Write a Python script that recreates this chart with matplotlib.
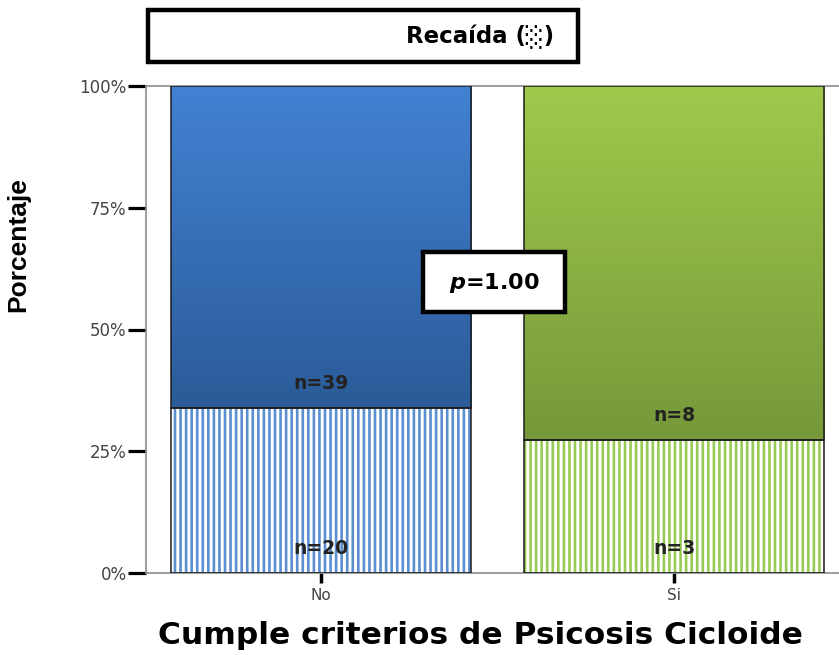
import numpy as np
import matplotlib
matplotlib.use("Agg")
import matplotlib.pyplot as plt
from matplotlib.patches import Rectangle
from matplotlib.colors import to_rgb
import matplotlib.patheffects as pe

# data
categories = ["No", "Si"]
n_relapse = [20, 3]       # lower (hatched) segment
n_no_relapse = [39, 8]    # upper (solid) segment
tick_vals = [0, 0.25, 0.5, 0.75, 1.0]
tick_labels = ["0%", "25%", "50%", "75%", "100%"]
p_text = "1.00"

top_colors = [("#4282d3", "#2b5b98"), ("#9fca4c", "#76983a")]
stripe_colors = ["#5a8fd2", "#98cb55"]
edge_dark = "#1c1c1c"

plt.rcParams["font.family"] = ["DejaVu Sans"]
plt.rcParams["hatch.linewidth"] = 1.9
plt.rcParams["mathtext.fontset"] = "custom"
plt.rcParams["mathtext.it"] = "DejaVu Sans:italic:bold"

fig = plt.figure(figsize=(8.39, 6.55), dpi=100)
ax = fig.add_axes([146 / 839, 1 - 573 / 655, 1 - 146 / 839, (573 - 86) / 655])

x = np.arange(len(categories))
width = 0.85
totals = np.array(n_relapse) + np.array(n_no_relapse)
low = np.array(n_relapse) / totals
high = np.array(n_no_relapse) / totals

# lower hatched segments
ax.bar(x, low, width, color="white", edgecolor=stripe_colors, hatch="|||",
       linewidth=0, zorder=2)
ax.bar(x, low, width, fill=False, edgecolor=edge_dark, linewidth=1.1, zorder=4)

# upper gradient segments
tops = ax.bar(x, high, width, bottom=low, color="none", edgecolor=edge_dark,
              linewidth=1.1, zorder=4)
for i, rect in enumerate(tops):
    c_top, c_bot = (np.array(to_rgb(c)) for c in top_colors[i])
    t = np.linspace(0, 1, 256)[:, None, None]
    grad = c_top * (1 - t) + c_bot * t
    shadow = Rectangle((rect.get_x(), rect.get_y()), rect.get_width(), rect.get_height(),
                       facecolor="white", edgecolor="none", zorder=2.5,
                       path_effects=[pe.SimplePatchShadow(offset=(0, 0), alpha=0.25,
                                                          shadow_rgbFace="gray"),
                                     pe.Normal()])
    ax.add_patch(shadow)
    im = ax.imshow(grad, extent=(rect.get_x(), rect.get_x() + rect.get_width(),
                                 rect.get_y(), rect.get_y() + rect.get_height()),
                   aspect="auto", origin="upper", zorder=3)
    im.set_clip_path(rect)

# n labels
for i in range(len(categories)):
    ax.text(x[i], 0.05, f"n={n_relapse[i]}", ha="center", va="center",
            fontsize=13.5, fontweight="bold", color="#222222", zorder=5)
    ax.text(x[i], low[i] + 0.05, f"n={n_no_relapse[i]}", ha="center", va="center",
            fontsize=13.5, fontweight="bold", color="#222222", zorder=5)

ax.set_xlim(-0.496, 1.467)
ax.set_ylim(0, 1)
ax.set_yticks(tick_vals)
ax.set_yticklabels(tick_labels, fontsize=12, color="#444444")
ax.set_xticks(x)
ax.set_xticklabels(categories, fontsize=11, color="#444444")
ax.tick_params(axis="y", length=13, width=2.3, color="black", pad=1)
ax.tick_params(axis="x", length=7, width=2.5, color="black", pad=4)
for s in ["left", "top", "bottom"]:
    ax.spines[s].set_color("#8c8c8c")
    ax.spines[s].set_linewidth(1.2)
ax.spines["right"].set_visible(False)

ax.set_ylabel("Porcentaje", fontsize=19, fontweight="bold",
              family=["Liberation Sans Narrow", "Liberation Sans", "DejaVu Sans"])
ax.yaxis.set_label_coords((30 - 146) / 693, (573 - 245) / 487)
ax.set_xlabel("Cumple criterios de Psicosis Cicloide", fontsize=22.5,
              fontweight="bold")
ax.xaxis.set_label_coords((480 - 146) / 693, -(635 - 573) / 487)
ax.xaxis.label.set_va("center")

# title box
fig.add_artist(Rectangle((148 / 839, 1 - 62 / 655), 430 / 839, 52 / 655,
                         transform=fig.transFigure, facecolor="white",
                         edgecolor="black", linewidth=3.2))
fig.text(480 / 839, 1 - 37 / 655, "Recaída (\u2591)", ha="center", va="center",
         fontsize=16.5, fontweight="bold")

# p-value box
fig.add_artist(Rectangle((423 / 839, 1 - 312 / 655), 142 / 839, 60 / 655,
                         transform=fig.transFigure, facecolor="white",
                         edgecolor="black", linewidth=3.2, zorder=6))
fig.text(494 / 839, 1 - 283 / 655, r"$\mathit{p}$=" + p_text, ha="center", va="center",
         fontsize=16, fontweight="bold", zorder=7)

fig.savefig("out.png", dpi=100)
